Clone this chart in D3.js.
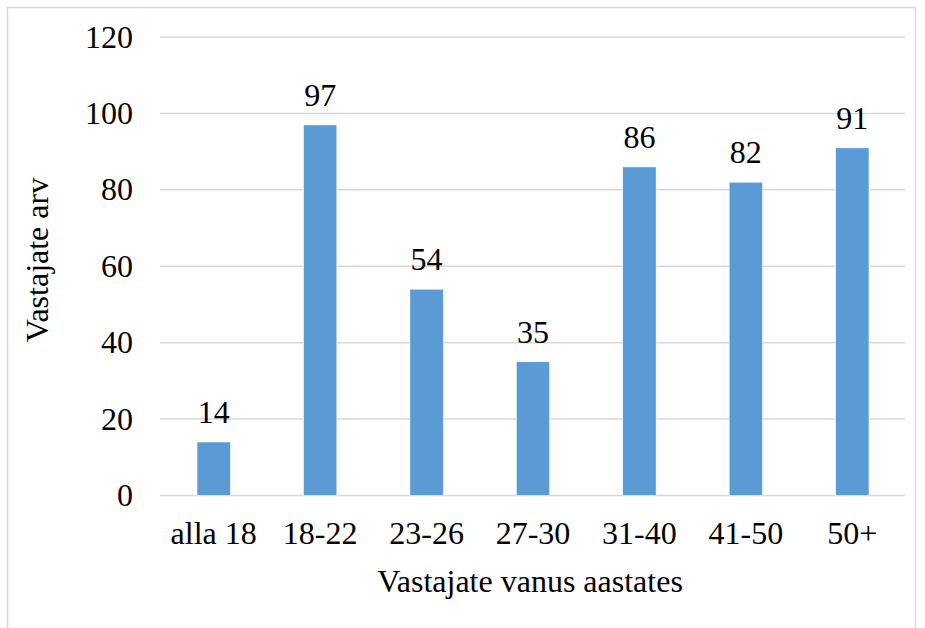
<!DOCTYPE html>
<html>
<head>
<meta charset="utf-8">
<script src="https://cdn.jsdelivr.net/npm/d3@7"></script>
<style>
  body { margin: 0; background: #fff; }
</style>
</head>
<body>
<div id="chart"></div>
<script>
// age groups and counts
var categories = ["alla 18", "18-22", "23-26", "27-30", "31-40", "41-50", "50+"];
var counts = [14, 97, 54, 35, 86, 82, 91];
var yTicks = [0, 20, 40, 60, 80, 100, 120];

var width = 925, height = 628;
var plot = { left: 160, right: 905, top: 37, bottom: 495.5 };
var serif = "'Liberation Serif', 'Times New Roman', Times, serif";
var fontSize = '32px';

var svg = d3.select('#chart').append('svg')
  .attr('width', width)
  .attr('height', height)
  .style('font-family', serif);

// outer chart border
svg.append('rect')
  .attr('x', 7.5).attr('y', 7.5)
  .attr('width', 908).attr('height', 640)
  .attr('fill', 'none')
  .attr('stroke', '#d9d9d9')
  .attr('stroke-width', 1.5);

var x = d3.scaleBand()
  .domain(categories)
  .range([plot.left + 0.5, plot.right + 0.5])
  .paddingInner(0.686)
  .paddingOuter(0.343);

var y = d3.scaleLinear()
  .domain([0, 120])
  .range([plot.bottom, plot.top]);

// gridlines
svg.append('g')
  .selectAll('line')
  .data(yTicks)
  .join('line')
  .attr('x1', plot.left)
  .attr('x2', plot.right)
  .attr('y1', d => y(d))
  .attr('y2', d => y(d))
  .attr('stroke', '#d9d9d9')
  .attr('stroke-width', 1.5);

// y tick labels
svg.append('g')
  .selectAll('text')
  .data(yTicks)
  .join('text')
  .attr('x', 133)
  .attr('y', d => y(d))
  .attr('dy', '0.33em')
  .attr('text-anchor', 'end')
  .style('font-size', fontSize)
  .text(d => d);

// bars
svg.append('g')
  .selectAll('rect')
  .data(counts)
  .join('rect')
  .attr('x', (d, i) => x(categories[i]))
  .attr('y', d => y(d))
  .attr('width', x.bandwidth())
  .attr('height', d => y(0) - y(d))
  .attr('fill', '#5b9bd5')
  .attr('stroke', '#ffffff')
  .attr('stroke-width', 0.6);

// value labels
svg.append('g')
  .selectAll('text')
  .data(counts)
  .join('text')
  .attr('x', (d, i) => x(categories[i]) + x.bandwidth() / 2)
  .attr('y', d => y(d) - 19)
  .attr('text-anchor', 'middle')
  .style('font-size', fontSize)
  .text(d => d);

// category labels
svg.append('g')
  .selectAll('text')
  .data(categories)
  .join('text')
  .attr('x', d => x(d) + x.bandwidth() / 2)
  .attr('y', 544)
  .attr('text-anchor', 'middle')
  .style('font-size', fontSize)
  .text(d => d);

// axis titles
svg.append('text')
  .attr('x', 530)
  .attr('y', 592)
  .attr('text-anchor', 'middle')
  .style('font-size', fontSize)
  .text('Vastajate vanus aastates');

svg.append('text')
  .attr('transform', 'translate(48,260) rotate(-90)')
  .attr('text-anchor', 'middle')
  .style('font-size', fontSize)
  .text('Vastajate arv');
</script>
</body>
</html>
